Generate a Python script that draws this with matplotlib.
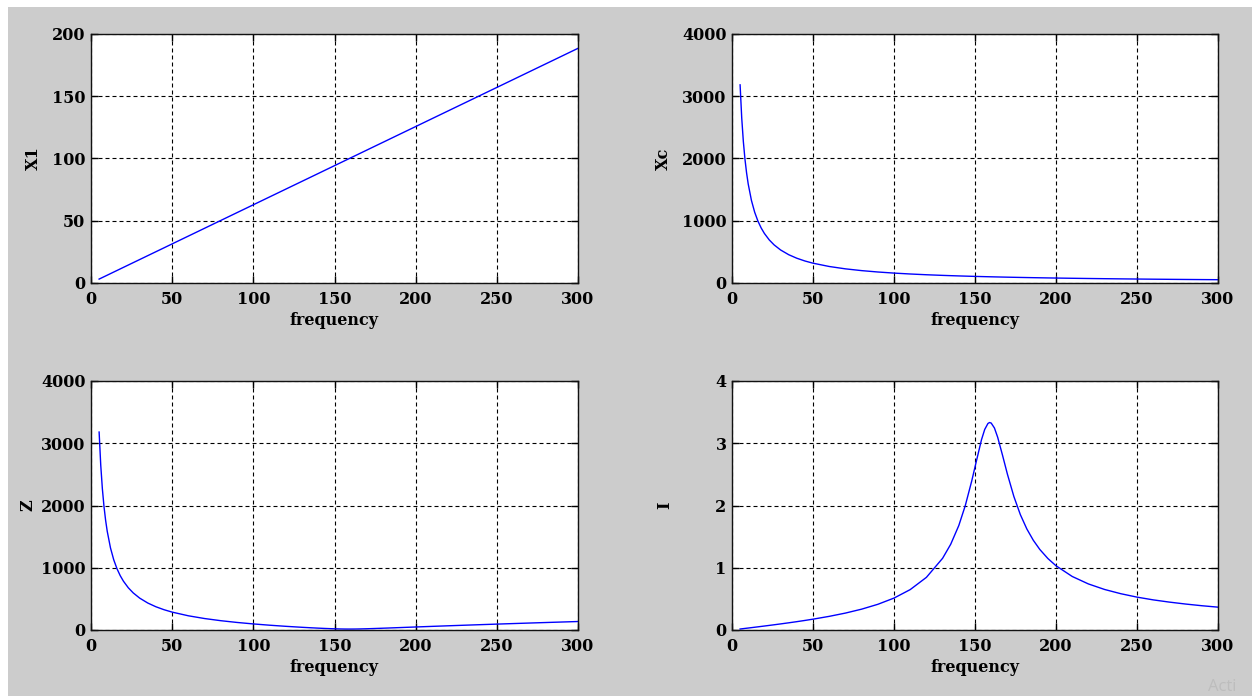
import matplotlib
matplotlib.use("Agg")
import matplotlib.pyplot as plt
from matplotlib.patches import Rectangle

# frequency samples (Hz)
frequency = [5, 6, 7, 8, 9, 10, 12, 14, 16, 18, 20, 23, 26, 30, 35, 40, 45, 50,
             60, 70, 80, 90, 100, 110, 120, 130, 135, 140, 144, 148, 151, 154,
             156, 158, 159, 160, 162, 164, 167, 170, 174, 178, 182, 186, 190,
             195, 200, 210, 220, 230, 240, 250, 260, 270, 280, 290, 300]

# inductive reactance
x1_values = [3.14, 3.77, 4.40, 5.03, 5.65, 6.28, 7.54, 8.80, 10.05, 11.31, 12.57,
             14.45, 16.34, 18.85, 21.99, 25.13, 28.27, 31.42, 37.70, 43.98, 50.27,
             56.55, 62.83, 69.12, 75.40, 81.68, 84.82, 87.96, 90.48, 92.99, 94.88,
             96.76, 98.02, 99.27, 99.90, 100.53, 101.79, 103.04, 104.93, 106.81,
             109.33, 111.84, 114.35, 116.87, 119.38, 122.52, 125.66, 131.95,
             138.23, 144.51, 150.80, 157.08, 163.36, 169.65, 175.93, 182.21, 188.50]

# capacitive reactance
xc_values = [3183.1, 2652.6, 2273.6, 1989.4, 1768.4, 1591.5, 1326.3, 1136.8, 994.7,
             884.2, 795.8, 692.0, 612.1, 530.5, 454.7, 397.9, 353.7, 318.3, 265.3,
             227.4, 198.9, 176.8, 159.2, 144.7, 132.6, 122.4, 117.9, 113.7, 110.5,
             107.5, 105.4, 103.3, 102.0, 100.7, 100.1, 99.47, 98.24, 97.05, 95.30,
             93.62, 91.47, 89.41, 87.45, 85.57, 83.77, 81.62, 79.58, 75.79, 72.34,
             69.20, 66.31, 63.66, 61.21, 58.95, 56.84, 54.88, 53.05]

# impedance
z_values = [3180.0, 2648.9, 2269.2, 1984.4, 1762.8, 1585.3, 1318.9, 1128.1, 984.8,
            873.0, 783.4, 677.7, 596.0, 511.9, 433.0, 373.1, 325.8, 287.3, 228.1,
            184.0, 149.4, 121.2, 97.53, 77.05, 59.13, 43.39, 36.32, 29.79, 25.02,
            20.87, 18.32, 16.36, 15.52, 15.07, 15.00, 15.04, 15.41, 16.15, 17.82,
            19.97, 23.32, 26.98, 30.80, 34.71, 38.64, 43.56, 48.46, 58.13, 67.57,
            76.79, 85.81, 94.62, 103.25, 111.71, 120.03, 128.21, 136.28]

# current
i_values = [0.0157, 0.0189, 0.0220, 0.0252, 0.0284, 0.0315, 0.0379, 0.0443, 0.0508,
            0.0573, 0.0638, 0.0738, 0.0839, 0.0977, 0.1155, 0.1340, 0.1535, 0.1740,
            0.2192, 0.2717, 0.3347, 0.4125, 0.5127, 0.6489, 0.8456, 1.152, 1.377,
            1.678, 1.998, 2.396, 2.729, 3.056, 3.222, 3.318, 3.333, 3.324, 3.245,
            3.096, 2.806, 2.504, 2.144, 1.853, 1.623, 1.441, 1.294, 1.148, 1.032,
            0.860, 0.740, 0.651, 0.583, 0.528, 0.484, 0.448, 0.417, 0.390, 0.367]

x_ticks = [0, 50, 100, 150, 200, 250, 300]

panels = [
    ("X1", x1_values, [0, 50, 100, 150, 200], (0, 200)),
    ("Xc", xc_values, [0, 1000, 2000, 3000, 4000], (0, 4000)),
    ("Z", z_values, [0, 1000, 2000, 3000, 4000], (0, 4000)),
    ("I", i_values, [0, 1, 2, 3, 4], (0, 4)),
]

W, H = 1252, 696
fig = plt.figure(figsize=(W / 100, H / 100), dpi=100, facecolor="#cccccc")

# white strips at the top and left edge of the screenshot
fig.patches.append(Rectangle((0, 1 - 7 / H), 1, 7 / H, transform=fig.transFigure,
                             facecolor="white", edgecolor="none", zorder=0))
fig.patches.append(Rectangle((0, 0), 8 / W, 1, transform=fig.transFigure,
                             facecolor="white", edgecolor="none", zorder=0))

boxes = [(91, 34, 578, 283), (732, 34, 1218, 283),
         (91, 381, 578, 630), (732, 381, 1218, 630)]
ylabel_x = [33, 663, 28, 665]

font = dict(family="DejaVu Serif", weight="bold", size=11.5)

for (label, vals, yt, ylim), (x0, y0, x1, y1), lx in zip(panels, boxes, ylabel_x):
    ax = fig.add_axes([x0 / W, 1 - y1 / H, (x1 - x0) / W, (y1 - y0) / H])
    ax.set_facecolor("white")
    ax.plot(frequency, vals, color="#0000ff", lw=1.0)
    ax.set_xlim(0, 300)
    ax.set_ylim(*ylim)
    ax.set_xticks(x_ticks)
    ax.set_yticks(yt)
    ax.set_xticklabels([str(t) for t in x_ticks], **font)
    ax.set_yticklabels([str(t) for t in yt], **font)
    ax.tick_params(direction="in", top=True, right=True, length=5, width=1,
                   colors="black")
    ax.tick_params(axis="x", pad=6)
    ax.tick_params(axis="y", pad=4)
    ax.grid(True, color="black", lw=0.8, linestyle=(0, (3.6, 2.7)))
    for s in ax.spines.values():
        s.set_linewidth(1.0)
        s.set_color("#111111")
    ax.set_xlabel("frequency", **font)
    ax.xaxis.set_label_coords(0.5, -0.115)
    ax.set_ylabel(label, va="center", **font)
    ax.yaxis.set_label_coords((lx - x0) / (x1 - x0), 0.5)

fig.text(1208 / W, 5 / H, "Acti", family="Open Sans", fontsize=12,
         color="#bdbdbd", ha="left", va="baseline")

fig.savefig("out.png", dpi=100, facecolor=fig.get_facecolor())
